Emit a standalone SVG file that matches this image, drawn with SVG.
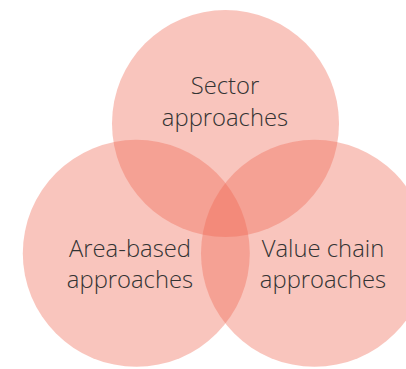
<svg xmlns="http://www.w3.org/2000/svg" width="406" height="369" viewBox="0 0 406 369">
<style>
.c{fill:#EF6651;fill-opacity:0.38}
.t{font-family:"Open Sans","Liberation Sans",sans-serif;font-weight:300;font-size:23.8px;fill:#333333;text-anchor:middle}
</style>
<rect width="406" height="369" fill="#ffffff"/>
<g id="sector">
<circle class="c" cx="225.5" cy="123.5" r="113.5"/>
<text class="t" x="225" y="94">Sector</text>
<text class="t" x="225" y="126">approaches</text>
</g>
<g id="area">
<circle class="c" cx="136.3" cy="253.3" r="113.5"/>
<text class="t" x="130" y="257">Area-based</text>
<text class="t" x="130" y="288">approaches</text>
</g>
<g id="value">
<circle class="c" cx="314.5" cy="253.3" r="113.5"/>
<text class="t" x="323" y="257">Value chain</text>
<text class="t" x="323" y="288">approaches</text>
</g>
<g id="connectors"/>
</svg>
